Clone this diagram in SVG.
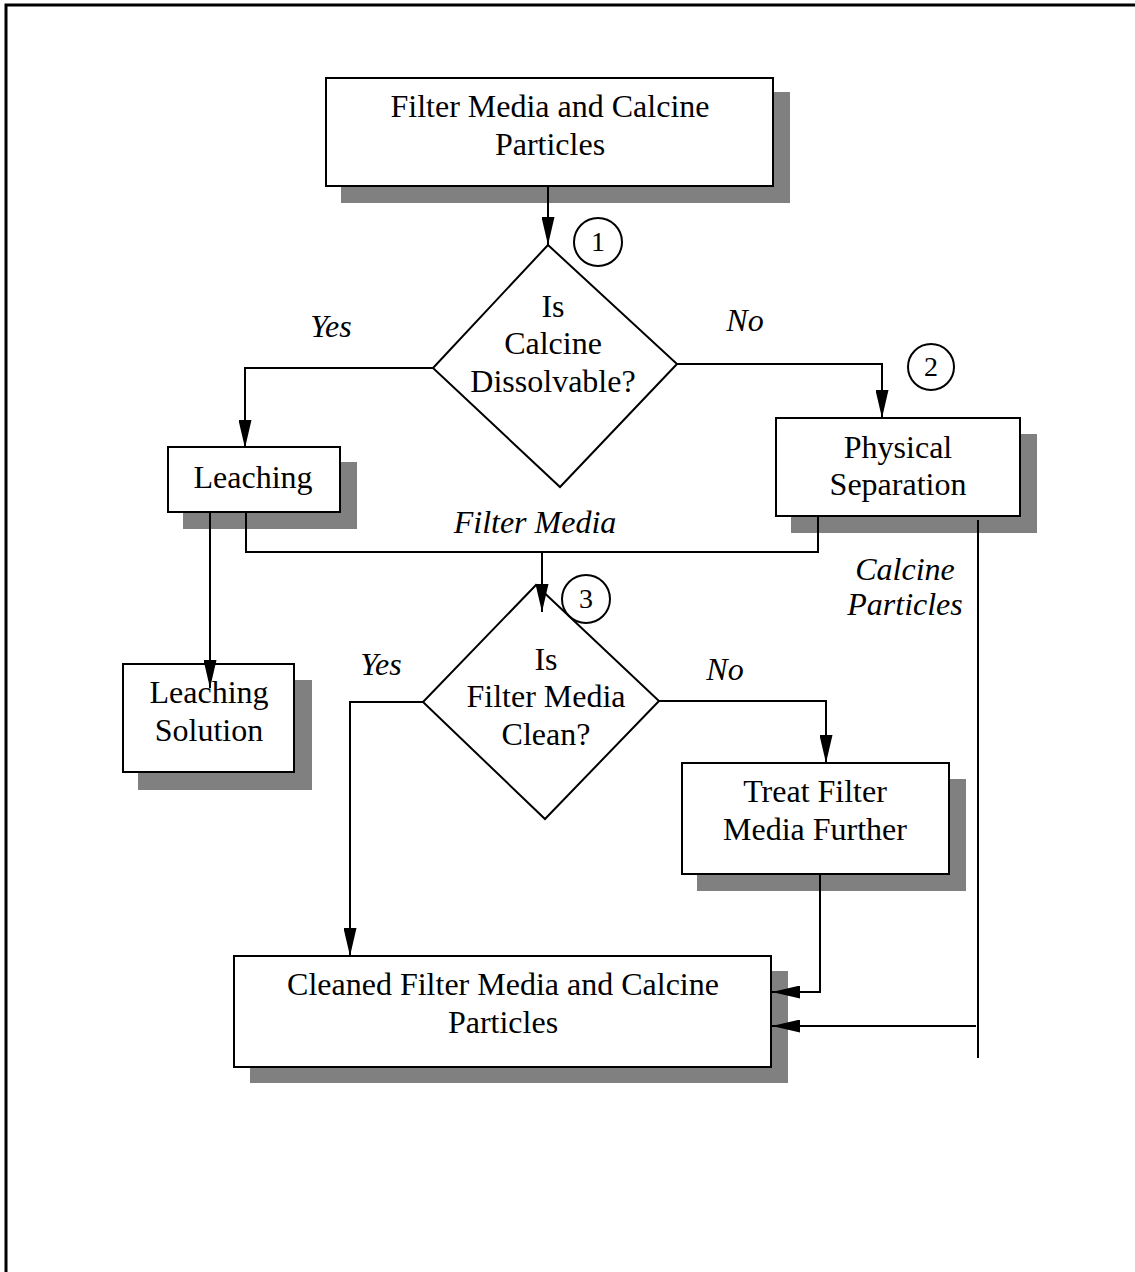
<svg xmlns="http://www.w3.org/2000/svg" width="1135" height="1272" viewBox="0 0 1135 1272">
<style>
.bg{fill:#ffffff}
.frame{fill:none;stroke:#000;stroke-width:3}
.shadow{fill:#808080;stroke:none}
.box{fill:#ffffff;stroke:#000;stroke-width:2}
.t{font-family:"Liberation Serif","Times New Roman",serif;font-size:32px;fill:#000;text-anchor:middle}
.lbl{font-family:"Liberation Serif","Times New Roman",serif;font-size:32px;font-style:italic;fill:#000;text-anchor:middle}
.num{font-family:"Liberation Serif","Times New Roman",serif;font-size:28px;fill:#000;text-anchor:middle}
.circ{fill:none;stroke:#000;stroke-width:2}
.c{fill:none;stroke:#000;stroke-width:2}
</style>
<defs>
<marker id="arr" markerUnits="userSpaceOnUse" markerWidth="28" markerHeight="13" refX="28" refY="6.5" orient="auto">
<path d="M0,0 L28,6.5 L0,13 z" fill="#000"/>
</marker>
</defs>
<rect class="bg" x="0" y="0" width="1135" height="1272"/>
<path class="frame" d="M6,1272 V5 H1135"/>

<g id="n-start">
<rect class="shadow" x="341" y="92" width="449" height="111"/>
<rect class="box" x="326" y="78" width="447" height="108"/>
<text class="t" x="550" y="117">Filter Media and Calcine</text>
<text class="t" x="550" y="155">Particles</text>
</g>

<g id="n-dec1">
<polygon class="box" points="548,245 677,364 560,487 433,368"/>
<text class="t" x="553" y="317">Is</text>
<text class="t" x="553" y="354">Calcine</text>
<text class="t" x="553" y="392">Dissolvable?</text>
</g>

<g id="n-leaching">
<rect class="shadow" x="183" y="462" width="174" height="67"/>
<rect class="box" x="168" y="447" width="172" height="65"/>
<text class="t" x="253" y="488">Leaching</text>
</g>

<g id="n-phys">
<rect class="shadow" x="791" y="434" width="246" height="99"/>
<rect class="box" x="776" y="418" width="244" height="98"/>
<text class="t" x="898" y="458">Physical</text>
<text class="t" x="898" y="495">Separation</text>
</g>

<g id="n-dec3">
<polygon class="box" points="536,585 659,701 545,819 423,702"/>
<text class="t" x="546" y="670">Is</text>
<text class="t" x="546" y="707">Filter Media</text>
<text class="t" x="546" y="745">Clean?</text>
</g>

<g id="n-solution">
<rect class="shadow" x="138" y="680" width="174" height="110"/>
<rect class="box" x="123" y="664" width="171" height="108"/>
<text class="t" x="209" y="703">Leaching</text>
<text class="t" x="209" y="741">Solution</text>
</g>

<g id="n-treat">
<rect class="shadow" x="697" y="779" width="269" height="112"/>
<rect class="box" x="682" y="763" width="267" height="111"/>
<text class="t" x="815" y="802">Treat Filter</text>
<text class="t" x="815" y="840">Media Further</text>
</g>

<g id="n-cleaned">
<rect class="shadow" x="250" y="971" width="538" height="112"/>
<rect class="box" x="234" y="956" width="537" height="111"/>
<text class="t" x="503" y="995">Cleaned Filter Media and Calcine</text>
<text class="t" x="503" y="1033">Particles</text>
</g>

<g id="connectors">
<path class="c" d="M548,186 V245" marker-end="url(#arr)"/>
<path class="c" d="M433,368 H245 V448" marker-end="url(#arr)"/>
<path class="c" d="M677,364 H882 V418" marker-end="url(#arr)"/>
<path class="c" d="M210,512 V688" marker-end="url(#arr)"/>
<path class="c" d="M246,512 V552 H818 V516"/>
<path class="c" d="M542,552 V612" marker-end="url(#arr)"/>
<path class="c" d="M423,702 H350 V956" marker-end="url(#arr)"/>
<path class="c" d="M659,701 H826 V763" marker-end="url(#arr)"/>
<path class="c" d="M820,874 V992 H772" marker-end="url(#arr)"/>
<path class="c" d="M978,520 V1058"/>
<path class="c" d="M976,1026 H772" marker-end="url(#arr)"/>
</g>

<g id="labels">
<text class="lbl" x="331" y="337">Yes</text>
<text class="lbl" x="745" y="331">No</text>
<text class="lbl" x="535" y="533">Filter Media</text>
<text class="lbl" x="905" y="580">Calcine</text>
<text class="lbl" x="905" y="615">Particles</text>
<text class="lbl" x="381" y="675">Yes</text>
<text class="lbl" x="725" y="680">No</text>
</g>

<g id="markers">
<circle class="circ" cx="598" cy="242" r="24"/>
<text class="num" x="598" y="251">1</text>
<circle class="circ" cx="931" cy="367" r="23"/>
<text class="num" x="931" y="376">2</text>
<circle class="circ" cx="586" cy="599" r="24"/>
<text class="num" x="586" y="608">3</text>
</g>
</svg>
